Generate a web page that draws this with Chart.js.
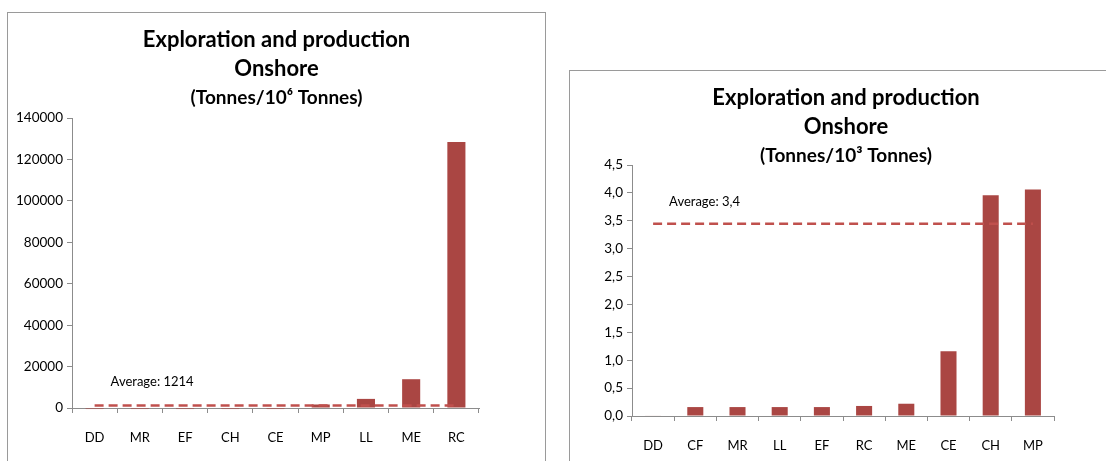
<!DOCTYPE html>
<html>
<head>
<meta charset="utf-8">
<script src="https://cdn.jsdelivr.net/npm/chart.js@4/dist/chart.umd.min.js"></script>
<style>
  html, body { margin: 0; padding: 0; background: #fff; overflow: hidden; width: 1106px; height: 461px; }
  .box { position: absolute; border: 1px solid #9a9a9a; background: #fff; }
  #leftBox { left: 7px; top: 12px; width: 537px; height: 460px; }
  #rightBox { left: 569px; top: 70px; width: 552px; height: 400px; }
</style>
</head>
<body>
<div class="box" id="leftBox"><canvas id="leftChart" width="537" height="449"></canvas></div>
<div class="box" id="rightBox"><canvas id="rightChart" width="552" height="390"></canvas></div>
<script>
// values
var leftCategories = ['DD', 'MR', 'EF', 'CH', 'CE', 'MP', 'LL', 'ME', 'RC'];
var leftValues = [-500, -500, -500, -500, -500, 1700, 4400, 13900, 128500];
var leftAverage = 1214;
var leftAverageText = 'Average: 1214';

var rightCategories = ['DD', 'CF', 'MR', 'LL', 'EF', 'RC', 'ME', 'CE', 'CH', 'MP'];
var rightValues = [0.01, 0.16, 0.16, 0.16, 0.16, 0.18, 0.22, 1.16, 3.96, 4.06];
var rightAverage = 3.45;
var rightAverageText = 'Average: 3,4';

var barColor = '#AA4643';
var lineColor = '#C0504D';
var axisColor = '#8c8c8c';
var font = 'Lato, "Open Sans", sans-serif';

Chart.defaults.font.family = font;
Chart.defaults.color = '#000';

// writes the "Average: ..." note just above the dashed line
var averageNote = {
  id: 'averageNote',
  afterDatasetsDraw: function(chart, args, opts) {
    var ctx = chart.ctx;
    var x = chart.scales.x.getPixelForValue(0) + opts.dx;
    var y = chart.scales.y.getPixelForValue(opts.value) - opts.dy;
    ctx.save();
    ctx.font = '13px ' + font;
    ctx.fillStyle = '#000';
    ctx.textAlign = 'left';
    ctx.textBaseline = 'middle';
    ctx.fillText(opts.text, x, y);
    ctx.restore();
  }
};

function makeChart(id, cfg) {
  var avgLine = cfg.categories.map(function() { return cfg.average; });
  return new Chart(document.getElementById(id), {
    type: 'bar',
    data: {
      labels: cfg.categories,
      datasets: [{
        type: 'line',
        data: avgLine,
        borderColor: lineColor,
        borderWidth: 2.5,
        borderDash: [9, 5],
        pointRadius: 0,
        fill: false,
        order: 0
      }, {
        data: cfg.values,
        backgroundColor: barColor,
        categoryPercentage: 1,
        barPercentage: cfg.barPct,
        clip: false,
        order: 1
      }]
    },
    options: {
      responsive: false,
      animation: false,
      events: [],
      layout: { padding: 0 },
      plugins: {
        legend: { display: false },
        tooltip: { enabled: false },
        title: {
          display: true,
          text: ['Exploration and production', 'Onshore'],
          font: { size: 22, weight: 'bold', lineHeight: 1.32 },
          color: '#000',
          padding: { top: 12, bottom: 5 }
        },
        subtitle: {
          display: true,
          text: cfg.subtitle,
          font: { size: 19, weight: 'bold', lineHeight: 1.0 },
          color: '#000',
          padding: { top: 0, bottom: cfg.subPad }
        },
        averageNote: { value: cfg.average, text: cfg.note, dx: 16, dy: cfg.noteDy }
      },
      scales: {
        x: {
          grid: { offset: true, drawOnChartArea: false, drawTicks: true, tickLength: 5, color: axisColor },
          border: { color: axisColor },
          ticks: { font: { size: 13 }, padding: 17, color: '#000' },
          afterFit: function(s) { s.height = cfg.xHeight; }
        },
        y: {
          min: cfg.min,
          max: cfg.max,
          grid: { drawOnChartArea: false, drawTicks: true, tickLength: 5, color: axisColor },
          border: { color: axisColor },
          ticks: {
            stepSize: cfg.step,
            font: { size: 13.5 },
            padding: 4,
            color: '#000',
            callback: cfg.tickFormat
          },
          afterFit: function(s) { s.width = cfg.yWidth; }
        },
        // empty space on the right so the title stays centred on the whole box
        spacer: {
          type: 'linear',
          position: 'right',
          display: true,
          grid: { display: false, drawTicks: false },
          border: { display: false },
          ticks: { display: false },
          afterFit: function(s) { s.width = cfg.padRight; }
        }
      }
    },
    plugins: [averageNote]
  });
}

makeChart('leftChart', {
  categories: leftCategories,
  values: leftValues,
  average: leftAverage,
  note: leftAverageText,
  subtitle: '(Tonnes/10\u2076 Tonnes)',
  min: 0, max: 140000, step: 20000,
  tickFormat: function(v) { return String(v); },
  barPct: 0.4,
  padRight: 66,
  subPad: 11,
  xHeight: 54,
  yWidth: 64,
  noteDy: 24
});

makeChart('rightChart', {
  categories: rightCategories,
  values: rightValues,
  average: rightAverage,
  note: rightAverageText,
  subtitle: '(Tonnes/10\u00b3 Tonnes)',
  min: 0, max: 4.5, step: 0.5,
  tickFormat: function(v) { return v.toFixed(1).replace('.', ','); },
  barPct: 0.38,
  padRight: 68,
  subPad: 0,
  xHeight: 45,
  yWidth: 62,
  noteDy: 22
});
</script>
</body>
</html>
